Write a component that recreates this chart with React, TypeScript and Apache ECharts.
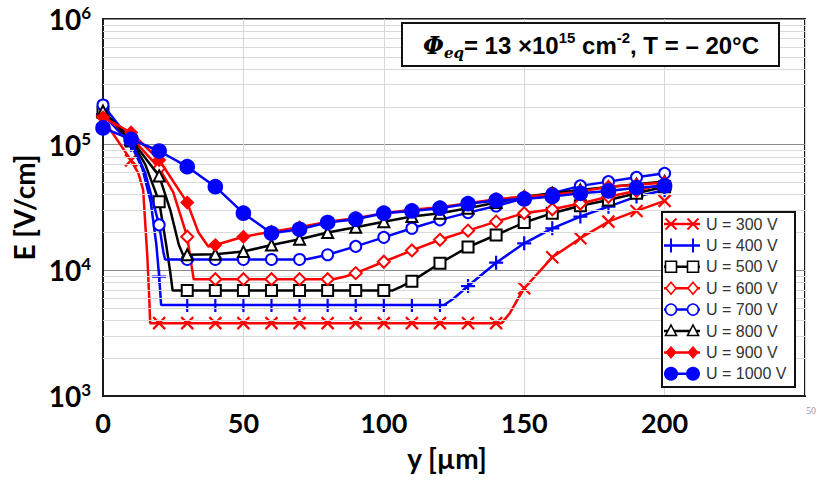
import React, { useEffect, useRef } from "react";
import * as echarts from "echarts";

// ---- data ----
const positions = [0, 10, 20, 30, 40, 50, 60, 70, 80, 90, 100, 110, 120, 130, 140, 150, 160, 170, 180, 190, 200];
const voltages = [300, 400, 500, 600, 700, 800, 900, 1000];

const e300 = [1.6e5, 7.5e4, 3.8e3, 3.8e3, 3.8e3, 3.8e3, 3.8e3, 3.8e3, 3.8e3, 3.8e3, 3.8e3, 3.8e3, 3.8e3, 3.8e3, 3.8e3, 7.2e3, 1.27e4, 1.8e4, 2.44e4, 2.97e4, 3.57e4];
const e400 = [1.75e5, 1.0e5, 8.9e3, 5.3e3, 5.3e3, 5.3e3, 5.3e3, 5.3e3, 5.3e3, 5.3e3, 5.3e3, 5.3e3, 5.3e3, 7.5e3, 1.15e4, 1.64e4, 2.16e4, 2.68e4, 3.21e4, 3.86e4, 4.36e4];
const e500 = [1.8e5, 1.07e5, 3.52e4, 6.9e3, 6.9e3, 6.9e3, 6.9e3, 6.9e3, 6.9e3, 6.9e3, 6.9e3, 8.2e3, 1.14e4, 1.53e4, 1.91e4, 2.4e4, 2.85e4, 3.27e4, 3.63e4, 4.1e4, 4.63e4];
const e600 = [1.7e5, 1.15e5, 6.5e4, 1.85e4, 8.5e3, 8.5e3, 8.5e3, 8.5e3, 8.5e3, 9.5e3, 1.17e4, 1.44e4, 1.75e4, 2.07e4, 2.44e4, 2.85e4, 3.06e4, 3.4e4, 3.85e4, 4.3e4, 4.9e4];
const e700 = [2.07e5, 1.07e5, 2.3e4, 1.22e4, 1.22e4, 1.22e4, 1.22e4, 1.22e4, 1.33e4, 1.55e4, 1.83e4, 2.16e4, 2.52e4, 2.88e4, 3.25e4, 3.75e4, 4.1e4, 4.7e4, 5.08e4, 5.5e4, 5.92e4];
const e800 = [1.85e5, 1.1e5, 5.64e4, 1.33e4, 1.34e4, 1.41e4, 1.59e4, 1.77e4, 2.0e4, 2.2e4, 2.44e4, 2.68e4, 2.85e4, 3.12e4, 3.46e4, 3.86e4, 4.1e4, 4.35e4, 4.6e4, 4.85e4, 5.1e4];
const e900 = [1.65e5, 1.25e5, 7.55e4, 3.46e4, 1.59e4, 1.85e4, 2.03e4, 2.2e4, 2.44e4, 2.6e4, 2.85e4, 3.03e4, 3.18e4, 3.42e4, 3.68e4, 3.86e4, 4.0e4, 4.23e4, 4.63e4, 4.8e4, 5.0e4];
const e1000 = [1.36e5, 1.1e5, 8.9e4, 6.68e4, 4.63e4, 2.85e4, 1.97e4, 2.12e4, 2.4e4, 2.55e4, 2.85e4, 2.97e4, 3.12e4, 3.39e4, 3.6e4, 3.7e4, 3.86e4, 4.1e4, 4.28e4, 4.55e4, 4.72e4];

// curve points between markers (no marker drawn)
const c300 = [[12.6, 5.9e4], [14.3, 4.36e4], [15.8, 1.27e4], [16.5, 5.8e3], [16.8, 3.8e3], [142, 3.8e3], [145, 4.6e3], [147.5, 5.8e3]];
const c400 = [[14, 6.5e4], [17, 3.5e4], [19, 1.6e4], [20.7, 5.3e3], [121.5, 5.3e3], [125, 6.0e3]];
const c500 = [[15, 7e4], [22.5, 1.6e4], [24, 9.5e3], [24.8, 6.9e3], [103, 6.9e3], [106, 7.4e3]];
const c600 = [[25, 4.2e4], [31.5, 1.1e4], [32.3, 8.5e3], [82, 8.5e3], [86, 8.9e3]];
const c700 = [[15, 6e4], [21.5, 1.4e4], [22.1, 1.22e4], [73, 1.23e4]];
const c800 = [[24, 3e4], [27, 1.6e4], [28.5, 1.33e4]];
const c900 = [[34, 2.0e4], [37.5, 1.55e4]];
const c1000: number[][] = [];

const xTicks = [0, 50, 100, 150, 200];
const minorDecades = [1e3, 1e4, 1e5];
const minorMultipliers = [2, 3, 4, 5, 6, 7, 8, 9];

const titleText = "{phi|Φ}{sub|eq}{b|= 13 ×10}{sup|15}{b| cm}{sup|-2}{b|, T = – 20°C}";

// ---- styles ----
const RED = "#ff0000";
const BLUE = "#0000ff";
const BLACK = "#000000";
const styles = [
  { color: RED, kind: "x", symbol: "path://M0,0L10,10M10,0L0,10", size: 12 },
  { color: BLUE, kind: "plus", symbol: "path://M5,0L5,10M0,5L10,5", size: 14 },
  { color: BLACK, kind: "rect", symbol: "emptyRect", size: 11 },
  { color: RED, kind: "diamond", symbol: "emptyDiamond", size: 12 },
  { color: BLUE, kind: "circle", symbol: "emptyCircle", size: 11 },
  { color: BLACK, kind: "triangle", symbol: "emptyTriangle", size: 11 },
  { color: RED, kind: "fdiamond", symbol: "diamond", size: 12 },
  { color: BLUE, kind: "fcircle", symbol: "circle", size: 14 },
];
const seriesValues = [e300, e400, e500, e600, e700, e800, e900, e1000];
const seriesCurves = [c300, c400, c500, c600, c700, c800, c900, c1000];

function buildData(values: number[], curve: number[][]) {
  const pts: any[] = positions.map((x, i) => ({ value: [x, values[i]] }));
  curve.forEach((p) => pts.push({ value: [p[0], p[1]], symbol: "none" }));
  pts.sort((a, b) => a.value[0] - b.value[0]);
  return pts;
}

function legendMarker(kind: string, cx: number, cy: number, color: string): any[] {
  const z = 101;
  const lw = 1.6;
  switch (kind) {
    case "x":
      return [
        { type: "line", z, shape: { x1: cx - 5.5, y1: cy - 5.5, x2: cx + 5.5, y2: cy + 5.5 }, style: { stroke: color, lineWidth: 2 } },
        { type: "line", z, shape: { x1: cx - 5.5, y1: cy + 5.5, x2: cx + 5.5, y2: cy - 5.5 }, style: { stroke: color, lineWidth: 2 } },
      ];
    case "plus":
      return [
        { type: "line", z, shape: { x1: cx, y1: cy - 7, x2: cx, y2: cy + 7 }, style: { stroke: color, lineWidth: 2 } },
      ];
    case "rect":
      return [{ type: "rect", z, shape: { x: cx - 5.5, y: cy - 5.5, width: 11, height: 11 }, style: { fill: "#fff", stroke: color, lineWidth: lw } }];
    case "diamond":
      return [{ type: "polygon", z, shape: { points: [[cx, cy - 6], [cx + 5, cy], [cx, cy + 6], [cx - 5, cy]] }, style: { fill: "#fff", stroke: color, lineWidth: lw } }];
    case "circle":
      return [{ type: "circle", z, shape: { cx, cy, r: 5.5 }, style: { fill: "#fff", stroke: color, lineWidth: lw } }];
    case "triangle":
      return [{ type: "polygon", z, shape: { points: [[cx, cy - 6], [cx + 5.5, cy + 4.5], [cx - 5.5, cy + 4.5]] }, style: { fill: "#fff", stroke: color, lineWidth: lw } }];
    case "fdiamond":
      return [{ type: "polygon", z, shape: { points: [[cx, cy - 6], [cx + 5, cy], [cx, cy + 6], [cx - 5, cy]] }, style: { fill: color, stroke: color, lineWidth: 1 } }];
    default:
      return [{ type: "circle", z, shape: { cx, cy, r: 7 }, style: { fill: color } }];
  }
}

export default function App() {
  const ref = useRef<HTMLDivElement>(null);
  useEffect(() => {
    if (!ref.current) return;
    const chart = echarts.init(ref.current, null, { renderer: "svg" });

    const minorValues: number[] = [];
    minorDecades.forEach((d) => minorMultipliers.forEach((m) => minorValues.push(m * d)));

    const series: any[] = [
      {
        type: "line",
        name: "minor-grid",
        data: [],
        z: 1,
        silent: true,
        markLine: {
          silent: true,
          symbol: ["none", "none"],
          label: { show: false },
          lineStyle: { color: "#d9d9d9", type: "solid", width: 1 },
          data: minorValues.map((v) => ({ yAxis: v })),
        },
      },
    ];
    voltages.forEach((v, i) => {
      const st = styles[i];
      const isPath = st.symbol.startsWith("path://");
      series.push({
        type: "line",
        name: `U = ${v} V`,
        data: buildData(seriesValues[i], seriesCurves[i]),
        z: 3 + i,
        smooth: false,
        symbol: st.symbol,
        symbolSize: st.size,
        showAllSymbol: true,
        lineStyle: { color: st.color, width: 2.5 },
        itemStyle: isPath
          ? { color: st.color, borderColor: st.color, borderWidth: 2.2 }
          : { color: st.color, borderColor: st.color, borderWidth: 1.6 },
      });
    });

    const graphic: any[] = [];
    // title box
    graphic.push({
      type: "rect",
      z: 100,
      shape: { x: 402, y: 23, width: 377, height: 43 },
      style: { fill: "#fff", stroke: "#111", lineWidth: 2 },
    });
    graphic.push({
      type: "text",
      z: 101,
      x: 591,
      y: 45,
      style: {
        text: titleText,
        align: "center",
        verticalAlign: "middle",
        fill: "#000",
        rich: {
          phi: { fontFamily: "DejaVu Serif", fontStyle: "italic", fontWeight: "bold", fontSize: 24, lineHeight: 30, fill: "#000" },
          sub: { fontFamily: "DejaVu Serif", fontStyle: "italic", fontWeight: "bold", fontSize: 15, lineHeight: 17, verticalAlign: "bottom", fill: "#000" },
          b: { fontFamily: "Liberation Sans", fontWeight: "bold", fontSize: 24, lineHeight: 30, fill: "#000" },
          sup: { fontFamily: "Liberation Sans", fontWeight: "bold", fontSize: 15, lineHeight: 15, verticalAlign: "top", fill: "#000" },
        },
      },
    });
    // legend
    const lx = 662, ly = 212, lw = 133, lh = 175;
    graphic.push({
      type: "rect",
      z: 100,
      shape: { x: lx, y: ly, width: lw, height: lh },
      style: { fill: "#fff", stroke: "#111", lineWidth: 2 },
    });
    voltages.forEach((v, i) => {
      const st = styles[i];
      const cy = 224 + i * 21.4;
      graphic.push({
        type: "line",
        z: 101,
        shape: { x1: 664, y1: cy, x2: 700, y2: cy },
        style: { stroke: st.color, lineWidth: 2.5 },
      });
      legendMarker(st.kind, 671, cy, st.color).forEach((g) => graphic.push(g));
      legendMarker(st.kind, 693, cy, st.color).forEach((g) => graphic.push(g));
      graphic.push({
        type: "text",
        z: 101,
        x: 706,
        y: cy,
        style: {
          text: `U = ${v} V`,
          fontFamily: "Liberation Sans",
          fontSize: 16,
          fill: "#333",
          verticalAlign: "middle",
        },
      });
    });
    graphic.push({
      type: "text",
      z: 101,
      x: 806,
      y: 405,
      style: { text: "50", fontFamily: "Liberation Serif", fontSize: 10, fill: "#999" },
    });

    const option: any = {
      animation: false,
      backgroundColor: "#fff",
      grid: {
        left: 103,
        top: 19,
        right: 26,
        bottom: 91,
        show: true,
        borderColor: "#1a1a1a",
        borderWidth: 2,
        backgroundColor: "#fff",
      },
      xAxis: {
        type: "value",
        min: 0,
        max: 250,
        interval: 50,
        name: "y [µm]",
        nameLocation: "middle",
        nameGap: 48,
        nameTextStyle: { fontFamily: "Lato", fontWeight: "bold", fontSize: 28, color: "#000", padding: [0, 14, 0, 0] },
        axisLine: { show: true, lineStyle: { color: "#1a1a1a", width: 2 } },
        axisTick: { show: false },
        axisLabel: {
          margin: 13,
          fontFamily: "Lato",
          fontWeight: "bold",
          fontSize: 27,
          color: "#000",
          formatter: (val: number) => (xTicks.indexOf(val) >= 0 ? String(val) : ""),
        },
        splitLine: { show: true, lineStyle: { color: "#d6d6d6", width: 1 } },
      },
      yAxis: {
        type: "log",
        logBase: 10,
        min: 1e3,
        max: 1e6,
        name: "E [V/cm]",
        nameLocation: "middle",
        nameGap: 62,
        nameTextStyle: { fontFamily: "Lato", fontWeight: "bold", fontSize: 28, color: "#000" },
        axisLine: { show: true, lineStyle: { color: "#1a1a1a", width: 2 } },
        axisTick: { show: false },
        axisLabel: {
          margin: 12,
          formatter: (val: number) => `{b|10}{s|${Math.round(Math.log10(val))}}`,
          rich: {
            b: { fontFamily: "Lato", fontWeight: "bold", fontSize: 28, lineHeight: 30, color: "#000" },
            s: { fontFamily: "Lato", fontWeight: "bold", fontSize: 17, lineHeight: 17, verticalAlign: "top", color: "#000" },
          },
        },
        splitLine: { show: true, lineStyle: { color: "#8a8a8a", width: 1 } },
      },
      graphic,
      series,
    };
    chart.setOption(option);
    return () => chart.dispose();
  }, []);
  return <div ref={ref} style={{ position: "absolute", left: 0, top: 0, width: 831, height: 487 }} />;
}
